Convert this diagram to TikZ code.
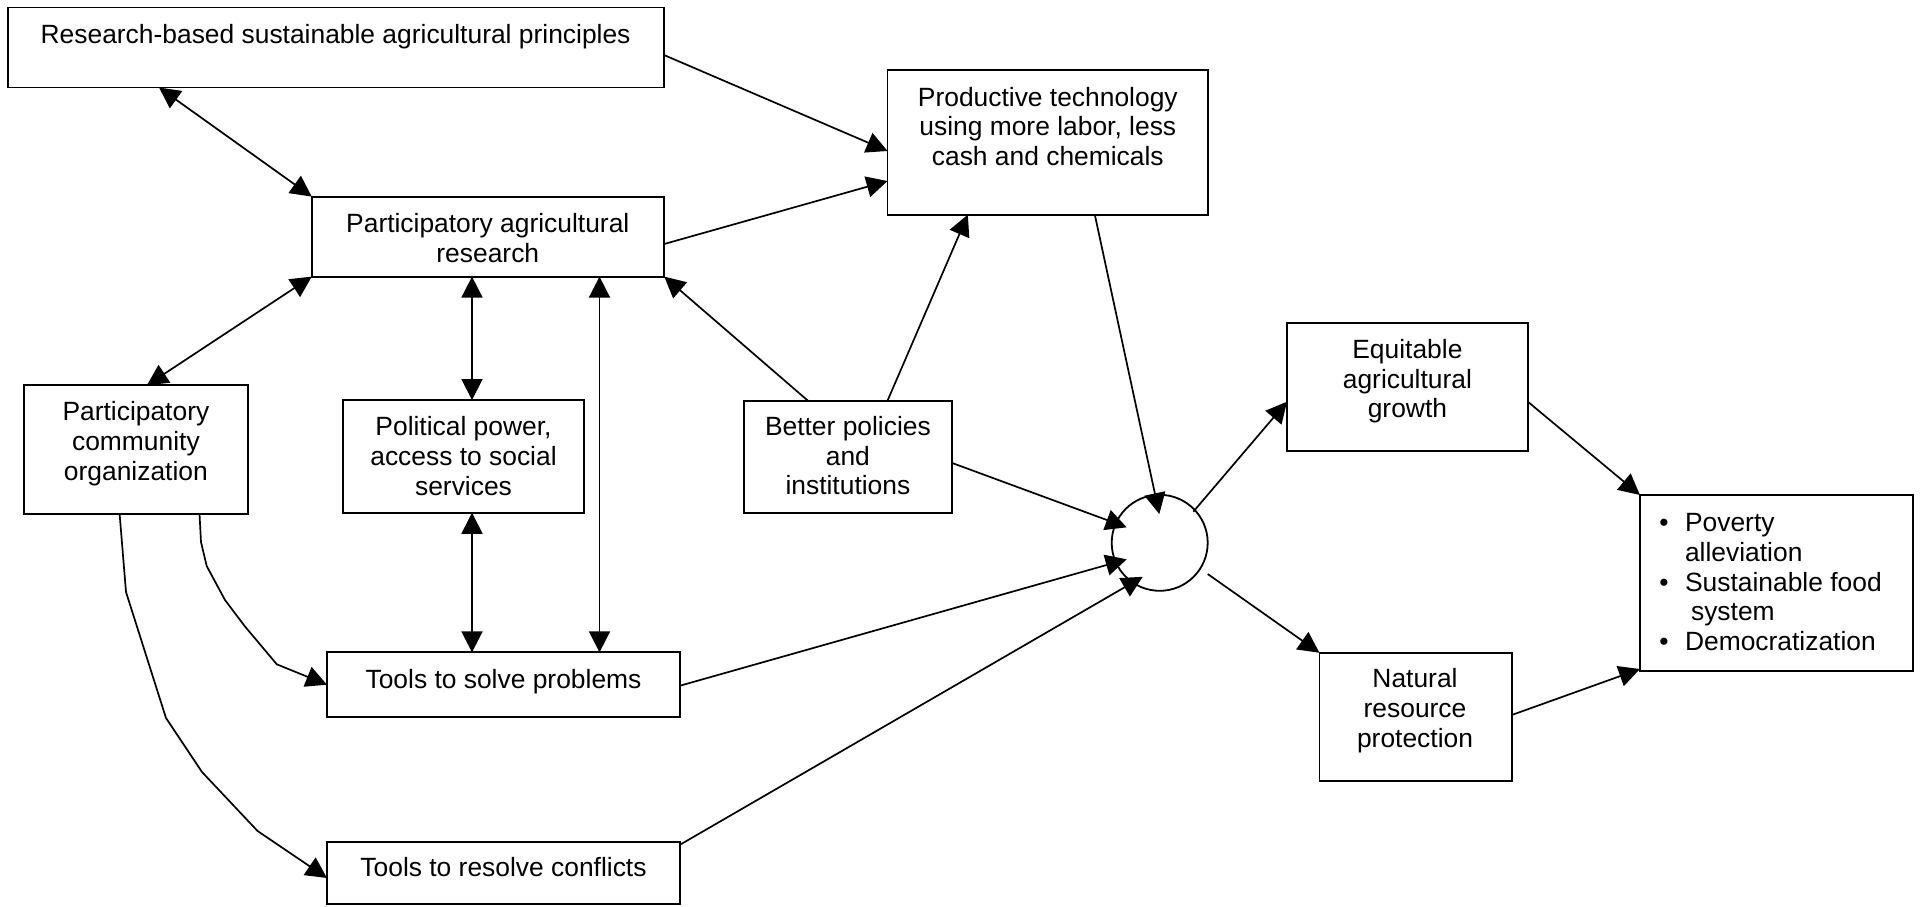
\documentclass[tikz,border=0pt]{standalone}
\usepackage{fontspec}
\setmainfont{Liberation Sans}
\usetikzlibrary{arrows.meta,calc}
\newcommand{\mlines}[1]{\begin{tabular}[t]{@{}c@{}}#1\end{tabular}}
\begin{document}
\begin{tikzpicture}[x=0.5pt,y=-0.5pt,
  box/.style={draw, line width=0.9pt, inner sep=0pt, outer sep=0pt},
  txt/.style={inner sep=0pt, anchor=base, font=\fontsize{13.2}{14.85}\selectfont},
  con/.style={line width=0.85pt, -{Triangle[length=10.5pt,width=10.5pt]}},
  dcon/.style={line width=0.85pt, {Triangle[length=10.5pt,width=10.5pt]}-{Triangle[length=10.5pt,width=10.5pt]}}]
\fill[white] (0,0) rectangle (1921,906);
\useasboundingbox (0,0) rectangle (1921,906);
% boxes
\node[box, minimum width=328pt, minimum height=40pt] (res) at (336,47.5) {};
\node[box, minimum width=176.25pt, minimum height=40pt] (par) at (488,236.6) {};
\node[box, minimum width=160.25pt, minimum height=72.2pt] (prod) at (1047.8,142.5) {};
\node[box, minimum width=112.15pt, minimum height=64.2pt] (pco) at (135.9,449.5) {};
\node[box, minimum width=120.5pt, minimum height=56.35pt] (pol) at (463.5,456.4) {};
\node[box, minimum width=104.3pt, minimum height=56pt] (bet) at (847.9,456.7) {};
\node[box, minimum width=176.5pt, minimum height=32.35pt] (tsp) at (503.5,684.7) {};
\node[box, minimum width=176.5pt, minimum height=31.3pt] (trc) at (503.5,873) {};
\node[box, minimum width=120.4pt, minimum height=64.15pt] (equ) at (1407.4,386.9) {};
\node[box, minimum width=96.3pt, minimum height=64.15pt] (nat) at (1415.7,716.9) {};
\node[box, minimum width=136.35pt, minimum height=88pt] (pov) at (1776.3,583) {};
\node[draw, circle, line width=0.9pt, inner sep=0pt, minimum size=48pt] (circ) at (1159.7,542.8) {};
% texts
\node[txt] (res-t) at (335.6,43.3) {Research-based sustainable agricultural principles};
\node[txt] (par-t) at (487.8,232.3) {\mlines{Participatory agricultural\\research}};
\node[txt] (prod-t) at (1047.8,106) {\mlines{Productive technology\\using more labor, less\\cash and chemicals}};
\node[txt] (pco-t) at (135.9,420.7) {\mlines{Participatory\\community\\organization}};
\node[txt] (pol-t) at (463.5,435.7) {\mlines{Political power,\\access to social\\services}};
\node[txt] (bet-t) at (847.9,435.3) {\mlines{Better policies\\and\\institutions}};
\node[txt] (tsp-t) at (503.5,688.3) {Tools to solve problems};
\node[txt] (trc-t) at (503.5,876.7) {Tools to resolve conflicts};
\node[txt] (equ-t) at (1407.4,358.3) {\mlines{Equitable\\agricultural\\growth}};
\node[txt] (nat-t) at (1415,687.7) {\mlines{Natural\\resource\\protection}};
\node[txt, anchor=base west] (pov-t) at (1659,531.7) {\begin{tabular}[t]{@{}l@{\hspace{8.2pt}}l@{}}\textbullet & Poverty\\ & alleviation\\ \textbullet & Sustainable food\\ & \hspace{3pt}system\\ \textbullet & Democratization\end{tabular}};
% connectors
\draw[con] ($(res.east)+(0,7.5)$) -- ($(prod.west)+(0,8.5)$);
\draw[con] ($(par.east)+(0,7.4)$) -- ($(prod.west)+(0,38.5)$);
\draw[dcon] ($(res.south west)+(151,0)$) -- (par.north west);
\draw[dcon] ($(pco.north)+(11,0)$) -- (par.south west);
\coordinate (v1) at ($(pol.north)+(8.5,0)$);
\draw[dcon] (v1) -- (v1 |- par.south);
\coordinate (v2) at ($(pol.south)+(8.5,0)$);
\draw[dcon] (v2) -- (v2 |- tsp.north);
\coordinate (v3) at ($(tsp.north)+(96,0)$);
\draw[dcon] (v3) -- (v3 |- par.south);
\draw[con] ($(bet.north)+(-40,0)$) -- (par.south east);
\draw[con] ($(bet.north)+(39.6,0)$) -- ($(prod.south)+(-80,0)$);
\draw[con] ($(bet.east)+(0,6.3)$) -- ($(circ.center)+(-33,-15.5)$);
\draw[con] ($(prod.south)+(47,0)$) -- ($(circ.center)+(-0.4,-28.8)$);
\draw[con] ($(tsp.east)+(0,1)$) -- ($(circ.center)+(-33,16.5)$);
\draw[con] ($(trc.north east)+(0,3)$) -- ($(circ.center)+(-17,34)$);
\draw[con] ($(circ.center)+(33.6,-31.1)$) -- ($(equ.west)+(0,14.8)$);
\draw[con] ($(circ.center)+(48,31.2)$) -- (nat.north west);
\draw[con] ($(equ.east)+(0,14.8)$) -- (pov.north west);
\draw[con] ($(nat.east)+(0,-2)$) -- ($(pov.south west)+(0,-2)$);
\draw[con] ($(pco.south)+(63.6,0)$) -- (201,542) -- (206.7,566) -- (225,600) -- (244.6,626) -- (276.8,664.3) -- (tsp.west);
\draw[con] ($(pco.south)+(-16.3,0)$) -- (126,592) -- (166,718) -- (202,772) -- (257.6,831) -- ($(trc.west)+(0,5)$);
\end{tikzpicture}
\end{document}
